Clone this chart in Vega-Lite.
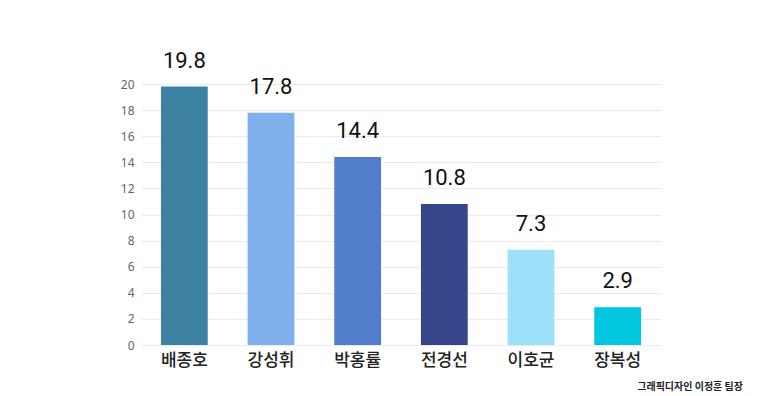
{
  "$schema": "https://vega.github.io/schema/vega-lite/v6.json",
  "width": 520,
  "height": 261,
  "autosize": {"type": "none"},
  "padding": {"left": 141, "top": 84, "right": 99, "bottom": 51},
  "background": "white",
  "config": {
    "view": {"stroke": null},
    "font": "Noto Sans CJK KR"
  },
  "title": {
    "text": "그래픽디자인 이정훈 팀장",
    "orient": "bottom",
    "anchor": "end",
    "fontSize": 10,
    "fontWeight": "bold",
    "color": "#222",
    "dx": 82,
    "offset": 14,
    "font": "Noto Sans CJK KR"
  },
  "data": {
    "values": [
      {"name": "배종호", "value": 19.8, "color": "#3E82A3"},
      {"name": "강성휘", "value": 17.8, "color": "#7FB0EC"},
      {"name": "박홍률", "value": 14.4, "color": "#517ECB"},
      {"name": "전경선", "value": 10.8, "color": "#35478A"},
      {"name": "이호균", "value": 7.3, "color": "#9EE0FA"},
      {"name": "장복성", "value": 2.9, "color": "#00C6E0"}
    ]
  },
  "encoding": {
    "x": {
      "field": "name",
      "type": "nominal",
      "sort": null,
      "scale": {"paddingInner": 0.46, "paddingOuter": 0.23},
      "axis": {
        "title": null,
        "labelAngle": 0,
        "labelFontSize": 17,
        "labelFontWeight": 500,
        "labelColor": "#222",
        "labelPadding": 7,
        "domain": false,
        "ticks": false,
        "labelFont": "Noto Sans CJK KR"
      }
    },
    "y": {
      "field": "value",
      "type": "quantitative",
      "scale": {"domain": [0, 20], "nice": false},
      "axis": {
        "title": null,
        "values": [0, 2, 4, 6, 8, 10, 12, 14, 16, 18, 20],
        "labelFontSize": 12,
        "labelColor": "#666",
        "labelPadding": 7,
        "domain": false,
        "ticks": false,
        "gridColor": "#ebebeb",
        "labelFont": "Noto Sans"
      }
    }
  },
  "layer": [
    {
      "mark": {"type": "bar"},
      "encoding": {
        "color": {"field": "color", "type": "nominal", "scale": null, "legend": null}
      }
    },
    {
      "mark": {"type": "text", "baseline": "bottom", "dy": -14, "fontSize": 22, "color": "#111", "font": "Roboto"},
      "encoding": {
        "text": {"field": "value", "type": "quantitative", "format": ".1f"}
      }
    }
  ]
}
